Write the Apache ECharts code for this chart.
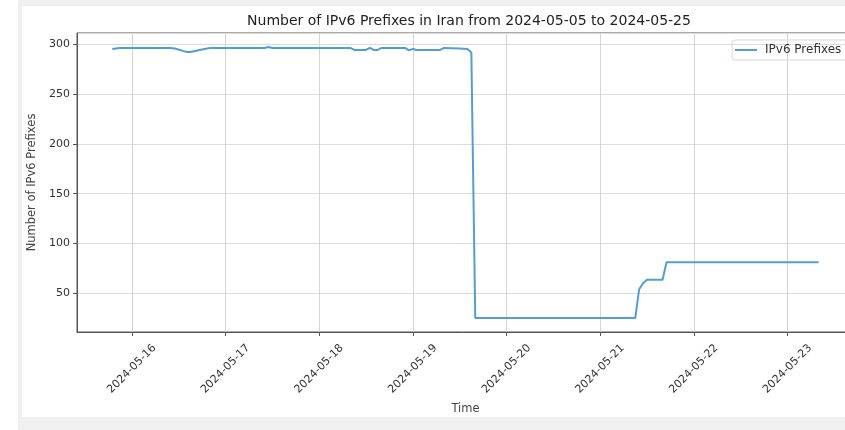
<!DOCTYPE html>
<html>
<head>
<meta charset="utf-8">
<script src="https://cdn.jsdelivr.net/npm/echarts@6/dist/echarts.min.js"></script>
<style>
  html, body { margin: 0; padding: 0; background: #fff; }
  #main { width: 845px; height: 430px; }
</style>
</head>
<body>
<div id="main"></div>
<script>
  // hourly samples, only the turning points kept
  var times = [
    '2024-05-15 19:00', '2024-05-15 21:00', '2024-05-16 10:00', '2024-05-16 11:00',
    '2024-05-16 14:00', '2024-05-16 15:00', '2024-05-16 18:00', '2024-05-16 20:00',
    '2024-05-17 10:00', '2024-05-17 11:00', '2024-05-17 12:00', '2024-05-18 08:00',
    '2024-05-18 09:00', '2024-05-18 12:00', '2024-05-18 13:00', '2024-05-18 14:00',
    '2024-05-18 15:00', '2024-05-18 16:00', '2024-05-18 22:00', '2024-05-18 23:00',
    '2024-05-19 00:00', '2024-05-19 01:00', '2024-05-19 07:00', '2024-05-19 08:00',
    '2024-05-19 12:00', '2024-05-19 14:00', '2024-05-19 15:00', '2024-05-19 16:00',
    '2024-05-21 09:00', '2024-05-21 10:00', '2024-05-21 11:00', '2024-05-21 12:00',
    '2024-05-21 16:00', '2024-05-21 17:00', '2024-05-23 08:00'
  ];
  var prefixes = [
    295.5, 296.5, 296.5, 296,
    292.5, 292.5, 295, 296.5,
    296.5, 297.5, 296.5, 296.5,
    294.5, 294.5, 296.5, 294.5,
    294.5, 296.5, 296.5, 294,
    295.5, 294.5, 294.5, 296.5,
    296, 295.5, 292, 25,
    25, 54, 60, 63.5,
    63.5, 81, 81
  ];
  var xRange = ['2024-05-15 09:57', '2024-05-23 17:03'];
  var yRange = [11, 311.5];

  var titleText = 'Number of IPv6 Prefixes in Iran from 2024-05-05 to 2024-05-25';
  var seriesName = 'IPv6 Prefixes';

  function toMs(s) {
    return echarts.time.parse(s).getTime();
  }

  var points = [];
  for (var i = 0; i < times.length; i++) {
    points.push([toMs(times[i]), prefixes[i]]);
  }

  var font = 'DejaVu Sans';
  var lineColor = '#4f9fd6';
  var myChart = echarts.init(document.getElementById('main'));
  var option = {
    backgroundColor: '#fff',
    animation: false,
    textStyle: { fontFamily: font },
    graphic: [
      { type: 'rect', z: -10, shape: { x: 18, y: 0, width: 827, height: 430 }, style: { fill: '#f0f0f0' } },
      { type: 'rect', z: -9, shape: { x: 22, y: 6, width: 823, height: 411 }, style: { fill: '#fff' } }
    ],
    title: {
      text: titleText,
      left: 464,
      textAlign: 'center',
      top: 9,
      textStyle: { fontFamily: font, fontSize: 14, fontWeight: 'normal', color: '#222' }
    },
    legend: {
      data: [{ name: seriesName, icon: 'rect' }],
      left: 732,
      top: 40,
      padding: [4, 8, 4, 3],
      itemWidth: 22,
      itemHeight: 2,
      itemGap: 8,
      borderColor: '#d8d8d8',
      borderWidth: 1,
      borderRadius: 3,
      textStyle: { fontFamily: font, fontSize: 12, color: '#333', padding: [0, 0, 0, 3] }
    },
    grid: {
      left: 77,
      top: 33,
      right: -9,
      bottom: 98,
      show: true,
      borderColor: '#555',
      borderWidth: 1,
      outerBoundsMode: 'none'
    },
    xAxis: {
      type: 'time',
      min: toMs(xRange[0]),
      max: toMs(xRange[1]),
      minInterval: 86400000,
      maxInterval: 86400000,
      name: 'Time',
      nameLocation: 'middle',
      nameGap: 71,
      nameTextStyle: { fontFamily: font, fontSize: 11.5, color: '#444' },
      axisLine: { lineStyle: { color: '#555' } },
      axisTick: { length: 4, lineStyle: { color: '#555' } },
      axisLabel: {
        formatter: '{yyyy}-{MM}-{dd}',
        rotate: 45,
        align: 'center',
        verticalAlign: 'middle',
        margin: 37,
        showMinLabel: false,
        showMaxLabel: false,
        hideOverlap: false,
        fontFamily: font,
        fontSize: 11,
        color: '#333'
      },
      splitLine: { show: true, lineStyle: { color: '#d4d4d4', width: 1 } }
    },
    yAxis: {
      type: 'value',
      min: yRange[0],
      max: yRange[1],
      splitNumber: 6,
      name: 'Number of IPv6 Prefixes',
      nameLocation: 'middle',
      nameGap: 37,
      nameTextStyle: { fontFamily: font, fontSize: 11.5, color: '#444' },
      axisLine: { show: true, lineStyle: { color: '#555' } },
      axisTick: { show: true, length: 4, lineStyle: { color: '#555' } },
      axisLabel: {
        showMinLabel: false,
        showMaxLabel: false,
        margin: 7,
        fontFamily: font,
        fontSize: 11,
        color: '#333'
      },
      splitLine: { show: true, lineStyle: { color: '#dcdcdc', width: 1 } }
    },
    series: [{
      name: seriesName,
      type: 'line',
      data: points,
      symbol: 'none',
      lineStyle: { color: lineColor, width: 2 },
      itemStyle: { color: lineColor }
    }]
  };
  myChart.setOption(option);
</script>
</body>
</html>
